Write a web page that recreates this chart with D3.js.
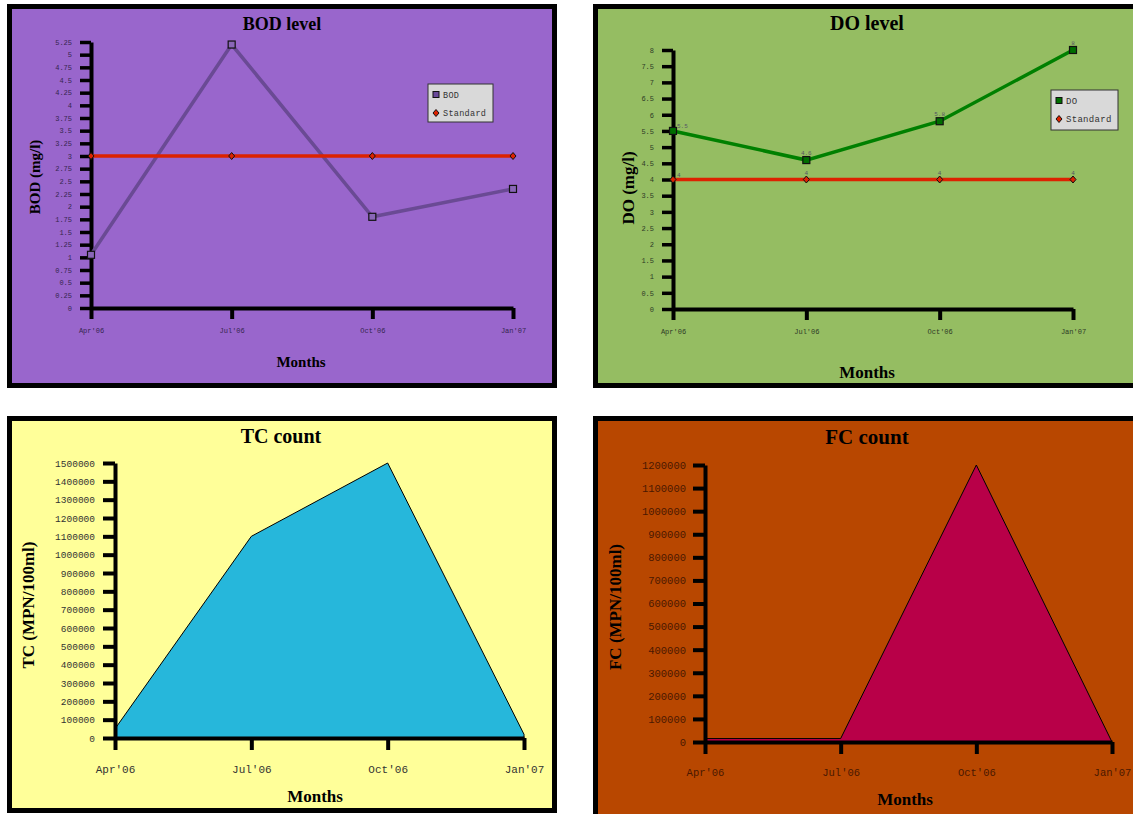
<!DOCTYPE html>
<html>
<head>
<meta charset="utf-8">
<script src="https://cdn.jsdelivr.net/npm/d3@7/dist/d3.min.js"></script>
<style>
html,body{margin:0;padding:0;background:#fff;}
svg{display:block;}
</style>
</head>
<body>
<script>
// ---------- DATA ----------
const months = ["Apr'06", "Jul'06", "Oct'06", "Jan'07"];
const bodValues = [1.05, 5.2, 1.8, 2.35];
const bodStandard = [3, 3, 3, 3];
const doValues = [5.5, 4.6, 5.8, 8];
const doStandard = [4, 4, 4, 4];
const doLabels = ["5.5", "4.6", "5.8", "8"];
const doStdLabels = ["4", "4", "4", "4"];
const tcValues = [50000, 1100000, 1500000, 20000];
const fcValues = [15000, 15000, 1200000, 0];
const bodTicks = [0, 0.25, 0.5, 0.75, 1, 1.25, 1.5, 1.75, 2, 2.25, 2.5, 2.75, 3, 3.25, 3.5, 3.75, 4, 4.25, 4.5, 4.75, 5, 5.25];
const doTicks = [0, 0.5, 1, 1.5, 2, 2.5, 3, 3.5, 4, 4.5, 5, 5.5, 6, 6.5, 7, 7.5, 8];
const tcTicks = [0, 100000, 200000, 300000, 400000, 500000, 600000, 700000, 800000, 900000, 1000000, 1100000, 1200000, 1300000, 1400000, 1500000];
const fcTicks = [0, 100000, 200000, 300000, 400000, 500000, 600000, 700000, 800000, 900000, 1000000, 1100000, 1200000];

// ---------- DRAW ----------
const svg = d3.select("body").append("svg").attr("width", 1133).attr("height", 814);
const SERIF = "'Liberation Serif','Times New Roman',serif";
const MONO = "'Liberation Mono','Courier New',monospace";

function panel(c) {
  const g = svg.append("g");
  // frame
  g.append("rect").attr("x", c.frame[0] + 2.5).attr("y", c.frame[1] + 2.5)
    .attr("width", c.frame[2] - 5).attr("height", c.frame[3] - 5)
    .attr("fill", c.bg).attr("stroke", "#000").attr("stroke-width", 5);

  const x = d3.scalePoint().domain(months).range([c.x0, c.x1]).padding(0);
  const y = d3.scaleLinear().domain([0, c.yMax]).range([c.y0, c.yTop]);

  // areas (under axes)
  if (c.area) {
    const area = d3.area().x((d, i) => x(months[i])).y0(y(0)).y1(d => y(d));
    g.append("path").datum(c.area).attr("d", area)
      .attr("fill", c.areaColor).attr("stroke", "#000").attr("stroke-width", 1)
      .attr("stroke-linejoin", "miter");
  }

  // y axis
  const ya = g.append("g").attr("transform", `translate(${c.x0},0)`)
    .call(d3.axisLeft(y).tickValues(c.yTicks).tickSize(c.tickLen).tickSizeOuter(0)
      .tickPadding(c.tickPad).tickFormat(d => String(d)));
  ya.select(".domain").attr("stroke", "#000").attr("stroke-width", 4);
  ya.selectAll(".tick line").attr("stroke", "#000").attr("stroke-width", c.tickW);
  ya.selectAll(".tick text").attr("fill", c.labelColor).style("font-family", MONO)
    .style("font-size", c.yLabelSize + "px").style("font-weight", c.labelWeight || "normal");

  // x axis
  const xa = g.append("g").attr("transform", `translate(0,${c.y0})`)
    .call(d3.axisBottom(x).tickSize(c.tickLen).tickSizeOuter(0).tickPadding(c.xPad));
  xa.select(".domain").attr("stroke", "#000").attr("stroke-width", 4);
  xa.selectAll(".tick line").attr("stroke", "#000").attr("stroke-width", 4);
  xa.selectAll(".tick text").attr("fill", c.labelColor).style("font-family", MONO)
    .style("font-size", c.xLabelSize + "px");

  // lines
  if (c.lines) {
    c.lines.forEach(L => {
      const line = d3.line().x((d, i) => x(months[i])).y(d => y(d));
      g.append("path").datum(L.values).attr("d", line).attr("fill", "none")
        .attr("stroke", L.color).attr("stroke-width", L.width);
      L.values.forEach((v, i) => {
        const px = x(months[i]), py = y(v);
        if (L.marker === "square") {
          g.append("rect").attr("x", px - 3.5).attr("y", py - 3.5).attr("width", 7).attr("height", 7)
            .attr("fill", L.markerFill).attr("stroke", "#111").attr("stroke-width", 1.2);
        } else {
          g.append("path").attr("d", `M${px},${py - 3.5}L${px + 3},${py}L${px},${py + 3.5}L${px - 3},${py}Z`)
            .attr("fill", L.markerFill).attr("stroke", "#111").attr("stroke-width", 1);
        }
        if (L.labels) {
          const first = i === 0;
          g.append("text").attr("x", first ? px + 4 : px).attr("y", first ? py - 3 : py - 5)
            .attr("text-anchor", first ? "start" : "middle")
            .style("font-family", MONO).style("font-size", "6px").attr("fill", "#556")
            .text(L.labels[i]);
        }
      });
    });
  }

  // legend
  if (c.legend) {
    const [lx, ly, lw, lh] = c.legend.box;
    g.append("rect").attr("x", lx).attr("y", ly).attr("width", lw).attr("height", lh)
      .attr("fill", "#d9d9d9").attr("stroke", "#333").attr("stroke-width", 1);
    c.legend.items.forEach((it, i) => {
      const cy = ly + 11 + i * 18;
      if (it.marker === "square") {
        g.append("rect").attr("x", lx + 5).attr("y", cy - 3.5).attr("width", 6).attr("height", 6)
          .attr("fill", it.fill).attr("stroke", "#111").attr("stroke-width", 1);
      } else {
        const px = lx + 8;
        g.append("path").attr("d", `M${px},${cy - 3.5}L${px + 3},${cy}L${px},${cy + 3.5}L${px - 3},${cy}Z`)
          .attr("fill", it.fill).attr("stroke", "#111").attr("stroke-width", 1);
      }
      g.append("text").attr("x", lx + 15).attr("y", cy).attr("dy", "0.35em")
        .style("font-family", MONO).style("font-size", c.legend.size + "px")
        .style("letter-spacing", "0.3px").attr("fill", "#333").text(it.name);
    });
  }

  // titles
  g.append("text").attr("x", c.title[1]).attr("y", c.title[2]).attr("text-anchor", "middle")
    .style("font-family", SERIF).style("font-weight", "bold").style("font-size", c.title[3] + "px")
    .attr("fill", "#000").text(c.title[0]);
  g.append("text").attr("x", c.xTitle[0]).attr("y", c.xTitle[1]).attr("text-anchor", "middle")
    .style("font-family", SERIF).style("font-weight", "bold").style("font-size", c.xTitle[2] + "px")
    .attr("fill", "#000").text("Months");
  g.append("text").attr("transform", `translate(${c.yTitle[1]},${c.yTitle[2]}) rotate(-90)`)
    .attr("text-anchor", "middle").attr("dy", "0.35em")
    .style("font-family", SERIF).style("font-weight", "bold").style("font-size", c.yTitle[3] + "px")
    .attr("fill", "#000").text(c.yTitle[0]);
}

panel({
  frame: [7, 4, 550, 384], bg: "#9966cc",
  x0: 91, x1: 513, y0: 308, yTop: 42, yMax: 5.25, yTicks: bodTicks,
  tickLen: 11, tickW: 3.5, tickPad: 8, xPad: 9,
  labelColor: "#35254f", yLabelSize: 7, xLabelSize: 7,
  lines: [
    { values: bodValues, color: "#6a4a94", width: 3.5, marker: "square", markerFill: "#8a66b8" },
    { values: bodStandard, color: "#dd2200", width: 3.5, marker: "diamond", markerFill: "#dd2200" }
  ],
  legend: { box: [428, 84, 65, 38], size: 8.5, items: [
    { name: "BOD", marker: "square", fill: "#6a4a9a" },
    { name: "Standard", marker: "diamond", fill: "#dd2200" }] },
  title: ["BOD level", 282, 30, 18],
  xTitle: [301, 367, 15],
  yTitle: ["BOD (mg/l)", 35, 177, 15]
});

panel({
  frame: [593, 4, 560, 384], bg: "#95bd62",
  x0: 673, x1: 1073, y0: 309, yTop: 50, yMax: 8, yTicks: doTicks,
  tickLen: 11, tickW: 3.5, tickPad: 8, xPad: 9,
  labelColor: "#2e3a26", yLabelSize: 7, xLabelSize: 7,
  lines: [
    { values: doValues, color: "#008000", width: 3.5, marker: "square", markerFill: "#006e00", labels: doLabels },
    { values: doStandard, color: "#dd2200", width: 3.5, marker: "diamond", markerFill: "#dd2200", labels: doStdLabels }
  ],
  legend: { box: [1051, 90, 67, 40], size: 9, items: [
    { name: "DO", marker: "square", fill: "#007000" },
    { name: "Standard", marker: "diamond", fill: "#dd2200" }] },
  title: ["DO level", 867, 30, 20],
  xTitle: [867, 378, 17],
  yTitle: ["DO (mg/l)", 628, 188, 17]
});

panel({
  frame: [7, 416, 550, 397], bg: "#ffff99",
  x0: 115, x1: 524, y0: 738, yTop: 463, yMax: 1500000, yTicks: tcTicks,
  tickLen: 12, tickW: 4, tickPad: 8, xPad: 15,
  labelColor: "#333", yLabelSize: 9.5, xLabelSize: 11, labelWeight: "normal",
  area: tcValues, areaColor: "#26b7db",
  title: ["TC count", 281, 443, 20],
  xTitle: [315, 802, 17],
  yTitle: ["TC (MPN/100ml)", 28, 605, 17]
});

panel({
  frame: [593, 416, 560, 410], bg: "#b84700",
  x0: 705, x1: 1112, y0: 742, yTop: 465, yMax: 1200000, yTicks: fcTicks,
  tickLen: 12, tickW: 4, tickPad: 7, xPad: 15,
  labelColor: "#4a1800", yLabelSize: 10.5, xLabelSize: 10.5,
  area: fcValues, areaColor: "#b80048",
  title: ["FC count", 867, 444, 21],
  xTitle: [905, 805, 17],
  yTitle: ["FC (MPN/100ml)", 615, 607, 17]
});
</script>
</body>
</html>
